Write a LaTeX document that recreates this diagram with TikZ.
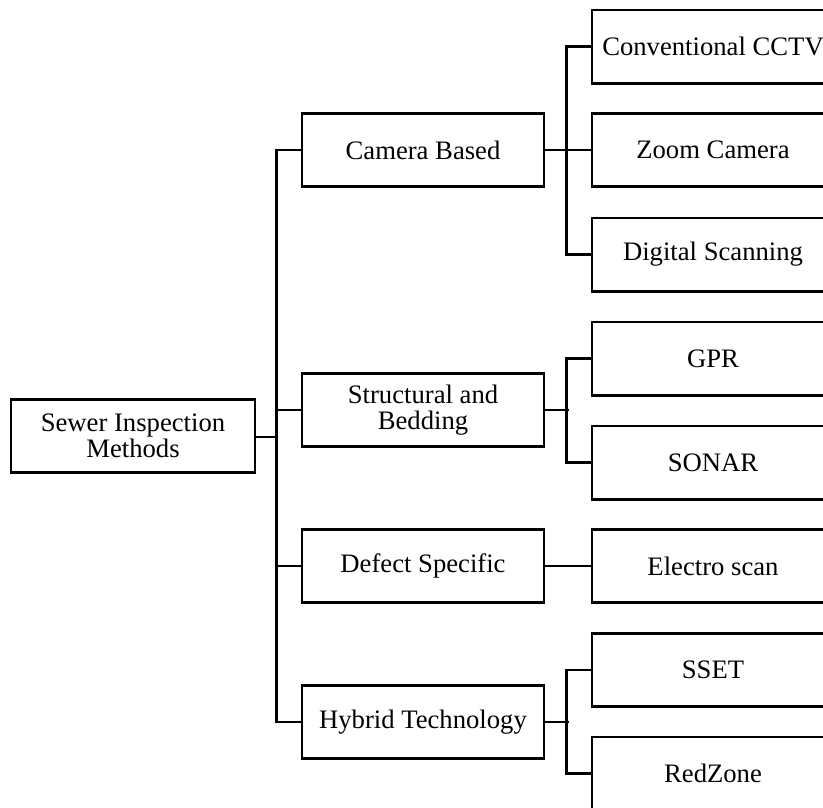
\documentclass[tikz,border=0pt]{standalone}
\usepackage{fontspec}
\setmainfont{Liberation Serif}
\begin{document}
\begin{tikzpicture}[x=0.75pt,y=-0.75pt,
  box/.style={draw,line width=2pt,minimum width=181.5pt,minimum height=55pt,
    inner sep=0pt,align=center,font=\fontsize{20}{19.5}\selectfont},
  link/.style={line width=2pt}]
\useasboundingbox (0,0) rectangle (823,807);
\clip (0,0) rectangle (823,807);

% root
\node[box,minimum width=183pt] (root) at (133,436) {Sewer Inspection\\Methods};

% categories
\node[box] (cam) at (423,150) {Camera Based};
\node[box] (str) at (423,410) {Structural and\\Bedding};
\node[box] (def) at (423,566) {Defect Specific};
\node[box] (hyb) at (423,722) {Hybrid Technology};

% methods
\node[box] (cctv) at (713,46.5) {Conventional CCTV};
\node[box] (zoom) at (713,150) {Zoom Camera};
\node[box] (dig)  at (713,254.5) {Digital Scanning};
\node[box] (gpr)  at (713,358.5) {GPR};
\node[box] (son)  at (713,462.5) {SONAR};
\node[box] (ele)  at (713,566) {Electro scan};
\node[box] (sset) at (713,670) {SSET};
\node[box] (red)  at (713,773.5) {RedZone};

% trunk from the root
\coordinate (trunk) at (278,437);
\draw[link] (root.east |- trunk) -- (trunk);
\draw[link] (cam.west) -- ++(-24,0) |- (hyb.west);
\draw[link] (str.west) -- ++(-24,0);
\draw[link] (def.west) -- ++(-24,0);

% branches to the methods
\draw[link] (cctv.west) -- ++(-24,0) |- (dig.west);
\draw[link] (cam.east) -- (zoom.west);
\draw[link] (gpr.west) -- ++(-24,0) |- (son.west);
\draw[link] (str.east) -- ++(24,0);
\draw[link] (def.east) -- (ele.west);
\draw[link] (sset.west) -- ++(-24,0) |- (red.west);
\draw[link] (hyb.east) -- ++(24,0);
\end{tikzpicture}
\end{document}
